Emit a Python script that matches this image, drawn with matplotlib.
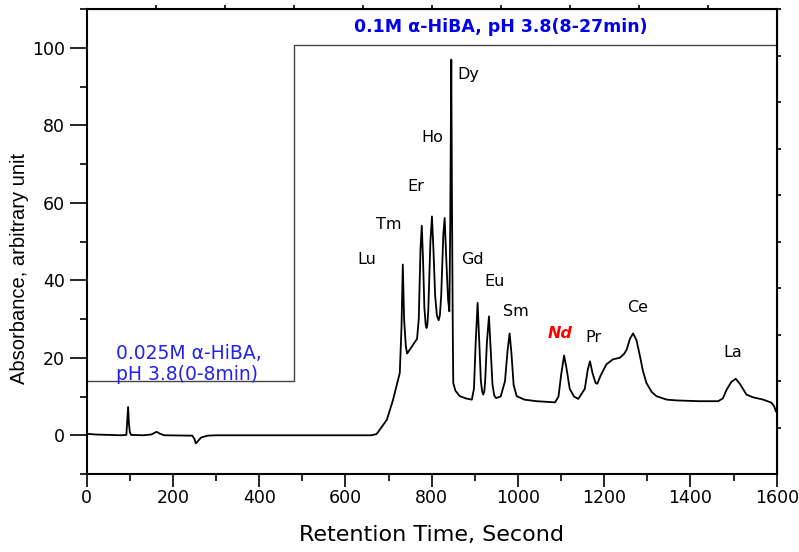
import numpy as np
import matplotlib
matplotlib.use("Agg")
import matplotlib.pyplot as plt
from matplotlib.ticker import MultipleLocator, NullFormatter, FixedLocator

# chromatogram (time in s, absorbance)
time_s = [0, 20, 50, 80, 92, 94, 96, 98, 100, 103, 130, 150, 162, 170, 180,
          245, 250, 253, 258, 265, 280, 300, 400, 500, 600, 660, 672, 680,
          696, 710, 726, 730, 733, 736, 740, 743, 766, 770, 774, 777, 780,
          783, 786, 788, 790, 792, 797, 800.6, 804, 808, 812, 816, 819, 822,
          827, 830, 834, 838, 841, 843, 845.4, 847, 849, 850, 855, 865, 880,
          893, 898, 902, 906.5, 910, 914, 917, 919.6, 922, 924, 928, 932.8,
          936, 941, 945, 949, 960, 970, 976, 980.7, 985, 990, 997, 1015,
          1043, 1086, 1094, 1100, 1107, 1113, 1120, 1130, 1140, 1155, 1162,
          1167, 1173, 1180, 1184, 1192, 1205, 1220, 1236, 1246, 1252, 1260,
          1267, 1275, 1283, 1290, 1298, 1310, 1321, 1345, 1368, 1420, 1464,
          1475, 1484, 1495, 1505, 1515, 1530, 1545, 1569, 1588, 1594, 1598]
absorbance = [0.4, 0.2, 0.1, 0.0, 0.1, 3.5, 7.3, 3.0, 0.8, 0.1, 0.0, 0.2,
              0.9, 0.4, 0.0, -0.1, -1.0, -2.1, -1.5, -0.6, -0.1, 0.0, 0.0,
              0.0, 0.0, 0.0, 0.3, 1.5, 4.0, 9.0, 16.1, 28.0, 44.1, 30.0,
              23.0, 21.1, 24.9, 30.0, 48.0, 54.1, 45.0, 33.0, 28.6, 27.7,
              28.6, 32.0, 50.0, 56.5, 48.0, 36.0, 31.0, 29.7, 31.0, 36.0,
              52.0, 56.1, 45.0, 35.0, 32.0, 55.0, 97.0, 60.0, 25.0, 13.5,
              11.5, 10.1, 9.5, 9.2, 12.0, 24.0, 34.2, 25.0, 14.0, 11.3, 10.5,
              11.3, 14.0, 24.0, 30.7, 24.0, 13.0, 10.3, 9.6, 10.0, 14.0,
              22.0, 26.3, 21.0, 13.0, 10.1, 9.2, 8.8, 8.5, 10.0, 15.5, 20.6,
              17.0, 12.0, 10.0, 9.4, 12.0, 17.0, 19.1, 16.0, 13.5, 13.3,
              15.5, 18.3, 19.6, 20.0, 21.0, 22.1, 25.0, 26.3, 24.5, 20.4,
              16.5, 13.5, 11.2, 10.1, 9.2, 9.0, 8.8, 8.8, 9.5, 11.8, 13.8,
              14.6, 13.2, 10.5, 9.8, 9.2, 8.4, 7.5, 6.2]

# eluent step profile
gradient_t = [0, 480, 480, 1600]
gradient_y = [14, 14, 100.7, 100.7]

elements = ['Lu', 'Tm', 'Er', 'Ho', 'Dy', 'Gd', 'Eu', 'Sm', 'Nd', 'Pr', 'Ce', 'La']
label_t = [650, 700, 764, 802, 884, 895, 946, 995, 1097, 1174, 1277, 1497]
label_y = [45.3, 54.4, 64.3, 76.8, 93.1, 45.5, 39.6, 32.0, 26.2, 25.3, 33.0, 21.3]

fig = plt.figure(figsize=(7.99, 5.52), dpi=100)
ax = fig.add_axes([0.1085, 0.1413, 0.8636, 0.8419])

ax.plot(gradient_t, gradient_y, color='#444444', lw=1.0)
ax.plot(time_s, absorbance, color='black', lw=1.3)

for name, tx, ty in zip(elements, label_t, label_y):
    if name == 'Nd':
        ax.text(tx, ty, name, color='red', fontsize=11.5, fontweight='bold',
                fontstyle='italic', ha='center', va='center',
                family='DejaVu Sans')
    else:
        ax.text(tx, ty, name, color='black', fontsize=11.5, ha='center',
                va='center', family='DejaVu Sans')

ax.text(961, 105.5, '0.1M α-HiBA, pH 3.8(8-27min)', color='#0000ee',
        fontsize=12.5, fontweight='bold', ha='center', va='center',
        family='DejaVu Sans')
ax.text(68, 18.5, '0.025M α-HiBA,\npH 3.8(0-8min)', color='#2222ee',
        fontsize=13.5, ha='left', va='center', linespacing=1.15,
        family='DejaVu Sans')

ax.set_xlim(0, 1600)
ax.set_ylim(-10, 110)
ax.xaxis.set_major_locator(MultipleLocator(200))
ax.xaxis.set_minor_locator(MultipleLocator(100))
ax.yaxis.set_major_locator(MultipleLocator(20))
ax.yaxis.set_minor_locator(MultipleLocator(10))
ax.tick_params(axis='x', which='major', length=9, width=1.2, direction='out')
ax.tick_params(axis='y', which='major', length=12, width=1.2, direction='out')
ax.tick_params(which='minor', length=5, width=1.2, direction='out')
ax.tick_params(labelsize=12.5)
ax.tick_params(axis='x', pad=2)
for lab in ax.get_xticklabels() + ax.get_yticklabels():
    lab.set_family('DejaVu Sans')

for sp in ax.spines.values():
    sp.set_linewidth(1.5)

# small ticks on top and right frame
top = ax.secondary_xaxis('top')
top.xaxis.set_major_locator(FixedLocator(np.arange(160, 1600, 160)))
top.xaxis.set_major_formatter(NullFormatter())
top.tick_params(length=3, width=1.2, direction='out')
right = ax.secondary_yaxis('right')
right.yaxis.set_major_locator(FixedLocator(np.arange(2, 111, 12)))
right.yaxis.set_major_formatter(NullFormatter())
right.tick_params(length=3, width=1.2, direction='out')

ax.set_xlabel('Retention Time, Second', fontsize=16, family='DejaVu Sans',
              labelpad=13)
ax.set_ylabel('Absorbance, arbitrary unit', fontsize=14.5,
              family='Liberation Sans')
ax.yaxis.set_label_coords(-0.084, 0.443)

fig.savefig('out.png', dpi=100)
